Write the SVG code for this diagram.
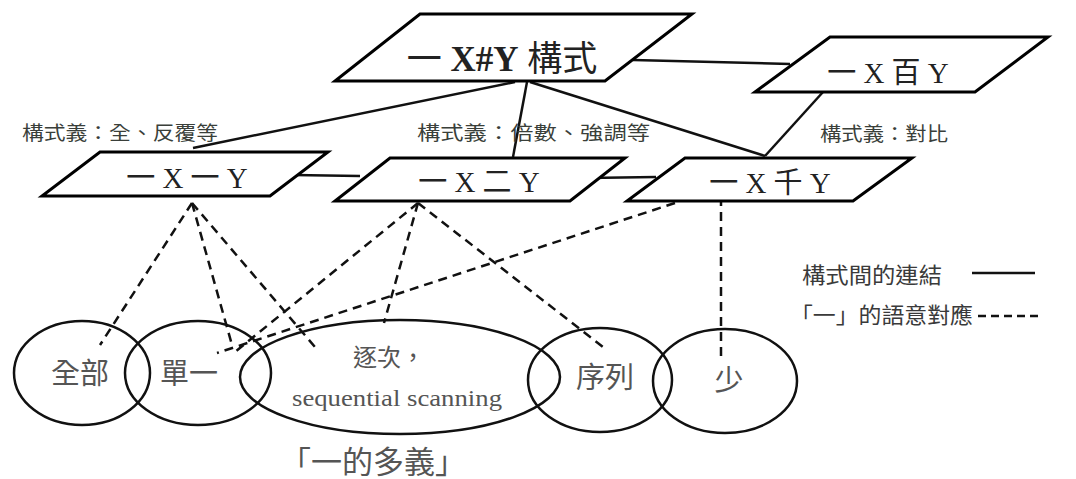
<svg xmlns="http://www.w3.org/2000/svg" width="1076" height="479" viewBox="0 0 1076 479">
<style>
.box{fill:#fff;stroke:#000;stroke-width:3;stroke-linejoin:miter}
.ell{fill:none;stroke:#111;stroke-width:2.5}
.solid{stroke:#111;stroke-width:2.5;fill:none}
.dash{stroke:#111;stroke-width:2.5;fill:none;stroke-dasharray:9 6}
.nt{font-family:"Liberation Serif","Noto Sans CJK TC",serif;fill:#222;text-anchor:middle}
.lb{font-family:"Noto Sans CJK TC","Liberation Sans",sans-serif;fill:#3a3f3a;font-size:19px}
.lg{font-family:"Noto Sans CJK TC","Liberation Sans",sans-serif;fill:#3a3a3a;font-size:22px}
.et{font-family:"Liberation Serif","Noto Sans CJK TC",serif;fill:#555;text-anchor:middle}
</style>
<rect width="1076" height="479" fill="#fff"/>
<g id="connectors">
<line class="solid" x1="515" y1="82" x2="193" y2="148"/>
<line class="solid" x1="527" y1="82" x2="513" y2="157"/>
<line class="solid" x1="530" y1="82" x2="765" y2="156"/>
<line class="solid" x1="633" y1="60" x2="790" y2="64"/>
<line class="solid" x1="823" y1="92" x2="765" y2="156"/>
<line class="solid" x1="293" y1="175" x2="360" y2="176"/>
<line class="solid" x1="587" y1="178" x2="656" y2="177"/>
<line class="dash" x1="192" y1="203" x2="100" y2="345"/>
<line class="dash" x1="192" y1="203" x2="232" y2="345"/>
<line class="dash" x1="192" y1="203" x2="315" y2="347"/>
<line class="dash" x1="418" y1="203" x2="235" y2="352"/>
<line class="dash" x1="418" y1="203" x2="384" y2="323"/>
<line class="dash" x1="418" y1="203" x2="603" y2="347"/>
<line class="dash" x1="675" y1="203" x2="217" y2="353"/>
<line class="dash" x1="721" y1="197" x2="721" y2="356"/>
</g>
<g id="node-top">
<polygon class="box" points="420,14 692,14 605,81 335,81"/>
<text class="nt" x="502" y="71" font-size="35">一 <tspan font-weight="bold">X#Y</tspan> 構式</text>
</g>
<g id="node-bai">
<polygon class="box" points="830,37 1048,37 975,92 755,92"/>
<text class="nt" x="888" y="83" font-size="29">一 X 百 Y</text>
</g>
<g id="node-yi">
<polygon class="box" points="100,152 328,152 270,196 42,196"/>
<text class="nt" x="187" y="188" font-size="29">一 X 一 Y</text>
</g>
<g id="node-er">
<polygon class="box" points="390,158 625,158 570,201 335,201"/>
<text class="nt" x="479" y="192" font-size="29">一 X 二 Y</text>
</g>
<g id="node-qian">
<polygon class="box" points="685,158 912,158 853,201 627,201"/>
<text class="nt" x="770" y="193" font-size="29">一 X 千 Y</text>
</g>
<g id="labels">
<text class="lb" x="22" y="140" textLength="196" lengthAdjust="spacingAndGlyphs">構式義：全、反覆等</text>
<text class="lb" x="417" y="140" textLength="233" lengthAdjust="spacingAndGlyphs">構式義：倍數、強調等</text>
<text class="lb" x="820" y="141" textLength="128" lengthAdjust="spacingAndGlyphs">構式義：對比</text>
</g>
<g id="ellipses">
<ellipse class="ell" cx="82" cy="373" rx="68" ry="52"/>
<ellipse class="ell" cx="198" cy="373" rx="73" ry="52"/>
<ellipse class="ell" cx="400" cy="377" rx="160" ry="57"/>
<ellipse class="ell" cx="600" cy="380" rx="72" ry="52"/>
<ellipse class="ell" cx="725" cy="381" rx="72" ry="52"/>
<text class="et" x="80" y="384" font-size="29">全部</text>
<text class="et" x="189" y="384" font-size="29">單一</text>
<text class="et" x="389" y="366" font-size="24">逐次，</text>
<text class="et" x="397" y="406" font-size="24" textLength="210" lengthAdjust="spacingAndGlyphs">sequential scanning</text>
<text class="et" x="605" y="388" font-size="29">序列</text>
<text class="et" x="729" y="391" font-size="29">少</text>
<text class="et" x="373" y="473" font-size="31">「一的多義」</text>
</g>
<g id="legend">
<text class="lg" x="802" y="283" textLength="140" lengthAdjust="spacingAndGlyphs">構式間的連結</text>
<line class="solid" x1="972" y1="273" x2="1035" y2="273"/>
<text class="lg" x="790" y="323" textLength="183" lengthAdjust="spacingAndGlyphs">「一」的語意對應</text>
<line class="dash" x1="978" y1="316" x2="1038" y2="316" style="stroke-dasharray:8 5"/>
</g>
</svg>
